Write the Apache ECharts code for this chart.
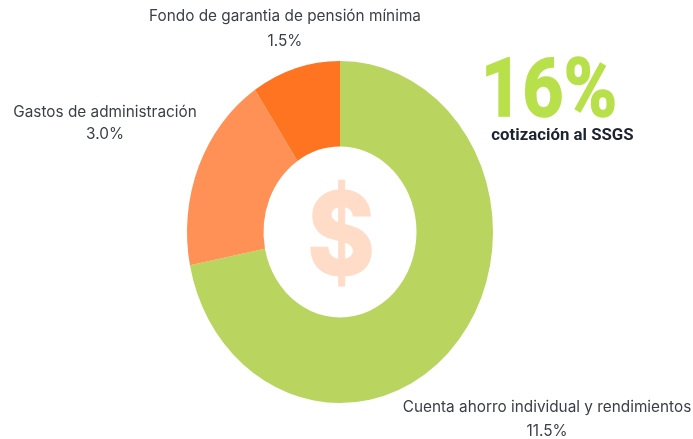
<!DOCTYPE html>
<html><head><meta charset="utf-8">
<style>html,body{margin:0;padding:0;background:#fff}#c{width:693px;height:439px}</style>
<script src="https://cdn.jsdelivr.net/npm/echarts@6/dist/echarts.min.js"></script>
</head><body><div id="c"></div>
<script>
const categories = ['Cuenta ahorro individual y rendimientos','Gastos de administración','Fondo de garantia de pensión mínima'];
const values = [11.5,3.0,1.5];
const sliceColors = ['#B9D55F','#FF9156','#FF7420'];
const total = values.reduce((a,b)=>a+b,0);
const chart = echarts.init(document.getElementById('c'),null,{renderer:'canvas'});
const CX=340,CY=232,RY=171,RX=153,R0=85.5;
const labelStyle=(text,x,y)=>({type:'text',x,y,style:{text,fill:'#3a3f47',font:'15.35px Inter',textAlign:'center',textVerticalAlign:'middle'},z:10});
const labelText=i=>categories[i];
const pctText=i=>values[i].toFixed(1)+'%';
chart.setOption({
  animation:false,
  backgroundColor:'#fff',
  series:[{
    type:'custom',
    coordinateSystem:'none',
    data:values.map((v,i)=>({name:categories[i],value:[v,i]})),
    renderItem(params,api){
      const i=api.value(1);
      let before=0; for(let k=0;k<i;k++) before+=values[k];
      const a0=-Math.PI/2+before/total*2*Math.PI;
      const a1=a0+api.value(0)/total*2*Math.PI;
      return {type:'sector',x:CX,y:CY,scaleX:RX/RY,scaleY:1,
        shape:{cx:0,cy:0,r:RY,r0:R0,startAngle:a0,endAngle:a1,clockwise:true},
        style:{fill:sliceColors[i]}};
    }
  }],
  graphic:[
    labelStyle(labelText(2),285,16),
    labelStyle(pctText(2),285,41),
    labelStyle(labelText(1),105,112),
    labelStyle(pctText(1),105,134),
    labelStyle(labelText(0),547,407),
    labelStyle(pctText(0),547,431),
    {type:'text',x:549,y:96,scaleX:0.89,z:10,style:{text:'16%',fill:'#B8E04A',stroke:'#B8E04A',lineWidth:1.5,font:'bold 81px Roboto',textAlign:'center',textVerticalAlign:'middle'}},
    {type:'text',x:562.5,y:136,scaleX:1.05,z:10,style:{text:'cotización al SSGS',fill:'#1c2230',font:'bold 16px Roboto',textAlign:'center',textVerticalAlign:'middle'}},
    {type:'text',x:341,y:240.5,scaleX:0.89,z:10,style:{text:'$',fill:'#FFDCC8',stroke:'#FFDCC8',lineWidth:1,font:'800 115px Inter',textAlign:'center',textVerticalAlign:'middle'}}
  ]
});
</script></body></html>
